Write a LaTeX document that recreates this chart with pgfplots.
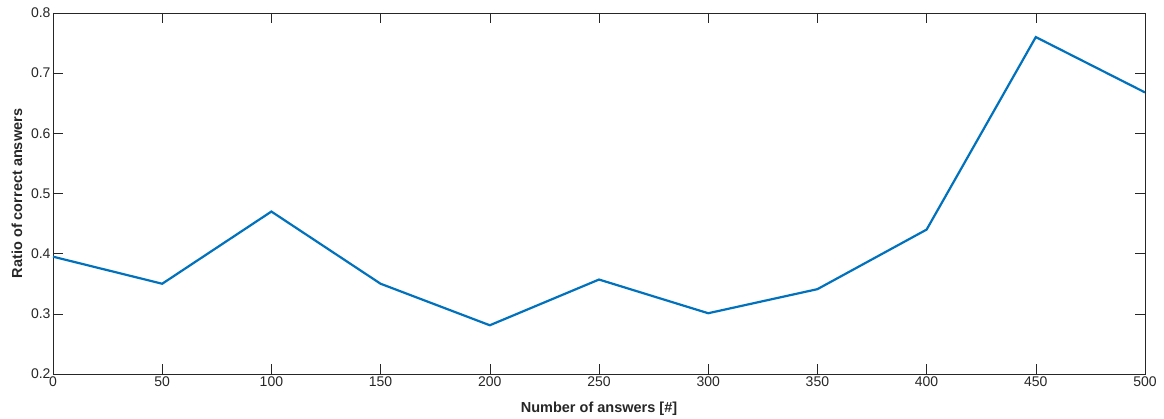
\documentclass[border=0pt]{standalone}
\usepackage{pgfplots}
\pgfplotsset{compat=1.18}
\usepackage{fontspec}
\setmainfont{Liberation Sans}
\definecolor{mblue}{RGB}{0,114,189}
\definecolor{axgray}{RGB}{38,38,38}
\begin{document}
\begin{tikzpicture}
\path[use as bounding box] (-53pt,-45pt) rectangle (1111pt,374pt);
\begin{axis}[
  at={(0,0)}, anchor=south west,
  scale only axis, width=1092pt, height=361pt,
  xmin=0, xmax=500, ymin=0.2, ymax=0.8,
  xtick={0,50,...,500}, ytick={0.2,0.3,...,0.8},
  yticklabel style={/pgf/number format/fixed, /pgf/number format/precision=1, /pgf/number format/fixed zerofill},
  /pgf/number format/assume math mode=true,
  tick align=inside, major tick length=10pt,
  tick style={axgray, line width=0.6pt},
  axis line style={axgray, line width=0.8pt},
  ticklabel style={font=\fontsize{14}{16}\selectfont, text=axgray},
  label style={font=\bfseries\fontsize{14.5}{16}\selectfont, text=axgray},
  xlabel={Number of answers [\#]},
  ylabel={Ratio of correct answers},
  xlabel style={at={(axis description cs:0.5,0)}, anchor=center, yshift=-35pt},
  ylabel style={at={(axis description cs:0,0.5)}, anchor=center, yshift=36pt},
  xticklabel style={yshift=1pt},
  yticklabel style={xshift=1pt},
]
\addplot[mblue, line width=2.2pt, line join=miter] coordinates {
(0,0.395) (50,0.350) (100,0.470) (150,0.350) (200,0.281) (250,0.357)
(300,0.301) (350,0.341) (400,0.440) (450,0.760) (500,0.668)
};
\end{axis}
\end{tikzpicture}
\end{document}
